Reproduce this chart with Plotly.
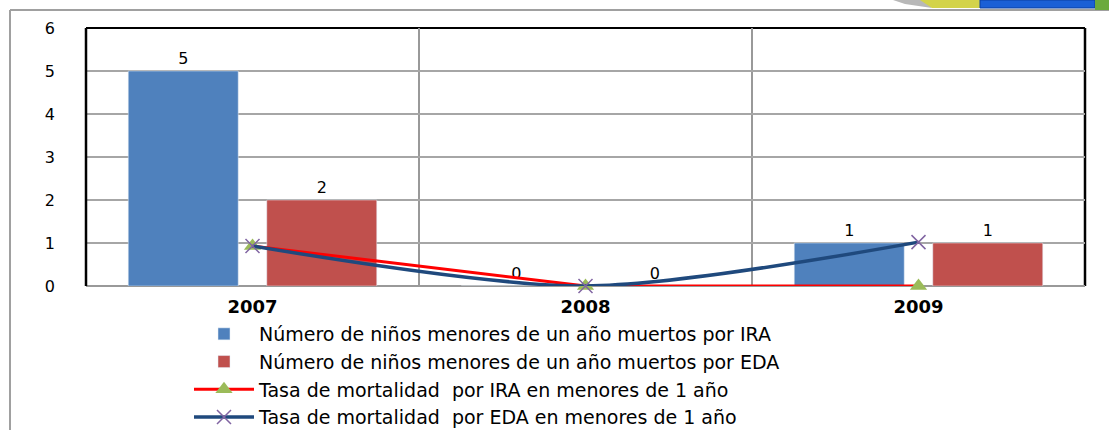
import plotly.graph_objects as go

# ---- data ----
years = ["2007", "2008", "2009"]
ira_deaths = [5, 0, 1]
eda_deaths = [2, 0, 1]
ira_rate = [0.93, 0, 0]
eda_rate = [0.93, 0, 1.02]

names = [
    "Número de niños menores de un año muertos por IRA",
    "Número de niños menores de un año muertos por EDA",
    "Tasa de mortalidad  por IRA en menores de 1 año",
    "Tasa de mortalidad  por EDA en menores de 1 año",
]

W, H = 1109, 430
L, R, T, B = 86, 1085, 28, 286
FONT = "DejaVu Sans"

def px(x):
    return (x - L) / (R - L)

def py(y):
    return 1 - (y - T) / (B - T)

xpos = list(range(len(years)))

fig = go.Figure()
fig.add_trace(go.Bar(
    x=xpos, y=ira_deaths, name=names[0], marker_color="#4F81BD", legendgroup="a",
    text=ira_deaths, textposition="outside", cliponaxis=False,
    textfont=dict(family=FONT, size=16, color="black"),
))
fig.add_trace(go.Bar(
    x=xpos, y=eda_deaths, name=names[1], marker_color="#C0504D", legendgroup="b",
    text=eda_deaths, textposition="outside", cliponaxis=False,
    textfont=dict(family=FONT, size=16, color="black"),
))
fig.add_trace(go.Scatter(
    x=xpos, y=ira_rate, name=names[2], mode="lines+markers", legendgroup="c",
    line=dict(color="#FF0000", width=3),
    marker=dict(symbol="triangle-up", size=15, color="#9BBB59"),
    cliponaxis=False,
))
fig.add_trace(go.Scatter(
    x=xpos, y=eda_rate, name=names[3], mode="lines+markers", legendgroup="d",
    line=dict(color="#1F497D", width=3.5, shape="spline", smoothing=0.8),
    marker=dict(symbol="x-thin", size=14, color="#8064A2",
                line=dict(color="#8064A2", width=1.5)),
    cliponaxis=False,
))

shapes = [
    # outer chart frame
    dict(type="line", xref="paper", yref="paper", x0=px(10), x1=px(10), y0=py(10), y1=py(430),
         line=dict(color="#A0A0A0", width=2)),
    dict(type="line", xref="paper", yref="paper", x0=px(10), x1=px(1109), y0=py(10), y1=py(10),
         line=dict(color="#A0A0A0", width=2)),
    # plot border
    dict(type="line", xref="paper", yref="paper", x0=0, x1=0, y0=0, y1=1,
         line=dict(color="black", width=2.5), layer="above"),
    dict(type="line", xref="paper", yref="paper", x0=0, x1=1, y0=1, y1=1,
         line=dict(color="black", width=2), layer="below"),
    dict(type="line", xref="paper", yref="paper", x0=1, x1=1, y0=0, y1=1,
         line=dict(color="black", width=2.5), layer="below"),
    dict(type="line", xref="paper", yref="paper", x0=0, x1=1, y0=0, y1=0,
         line=dict(color="#999999", width=2), layer="below"),
    # top-right logo fragment
    dict(type="path", xref="paper", yref="paper",
         path=f"M {px(893)} {py(0)} L {px(925)} {py(0)} L {px(932)} {py(8)} L {px(905)} {py(4)} Z",
         fillcolor="#B8B8B8", line=dict(width=0)),
    dict(type="path", xref="paper", yref="paper",
         path=f"M {px(920)} {py(0)} L {px(982)} {py(0)} L {px(982)} {py(8)} L {px(932)} {py(8)} Z",
         fillcolor="#D3D34A", line=dict(width=0)),
    dict(type="rect", xref="paper", yref="paper", x0=px(980), x1=px(1095), y0=py(8), y1=py(0),
         fillcolor="#1A5FD6", line=dict(color="#0B3FA0", width=1)),
    dict(type="rect", xref="paper", yref="paper", x0=px(1095), x1=px(1109), y0=py(10), y1=py(0),
         fillcolor="#6BAA3C", line=dict(width=0)),
]

fig.update_layout(
    width=W, height=H,
    margin=dict(l=L, r=W - R, t=T, b=H - B, autoexpand=False),
    paper_bgcolor="white", plot_bgcolor="white",
    barmode="group", bargap=0.168, bargroupgap=0.206,
    font=dict(family=FONT, color="black"),
    showlegend=True,
    legend=dict(
        x=px(189), xanchor="left", y=py(315), yanchor="top",
        font=dict(family=FONT, size=19, color="black"),
        bgcolor="rgba(0,0,0,0)", traceorder="grouped",
        tracegroupgap=0, itemwidth=60,
    ),
    shapes=shapes,
)
fig.update_xaxes(
    range=[-0.5, 2.5], tickvals=xpos, ticktext=years,
    tickfont=dict(family=FONT, size=18, color="black", weight="bold"),
    showgrid=False, zeroline=False, showline=False, ticks="",
    ticklabelstandoff=8,
    minor=dict(tickvals=[0.5, 1.5], showgrid=True, gridcolor="#999999", gridwidth=2),
)
fig.update_yaxes(
    range=[0, 6], dtick=1, showgrid=True, gridcolor="#A6A6A6", gridwidth=1.5,
    zeroline=False, showline=False, ticks="",
    tickfont=dict(family=FONT, size=16, color="black"),
    ticklabelstandoff=30,
)

fig.write_html("out.html", config={"displayModeBar": False},
               post_script="document.body.style.margin='0px';")
